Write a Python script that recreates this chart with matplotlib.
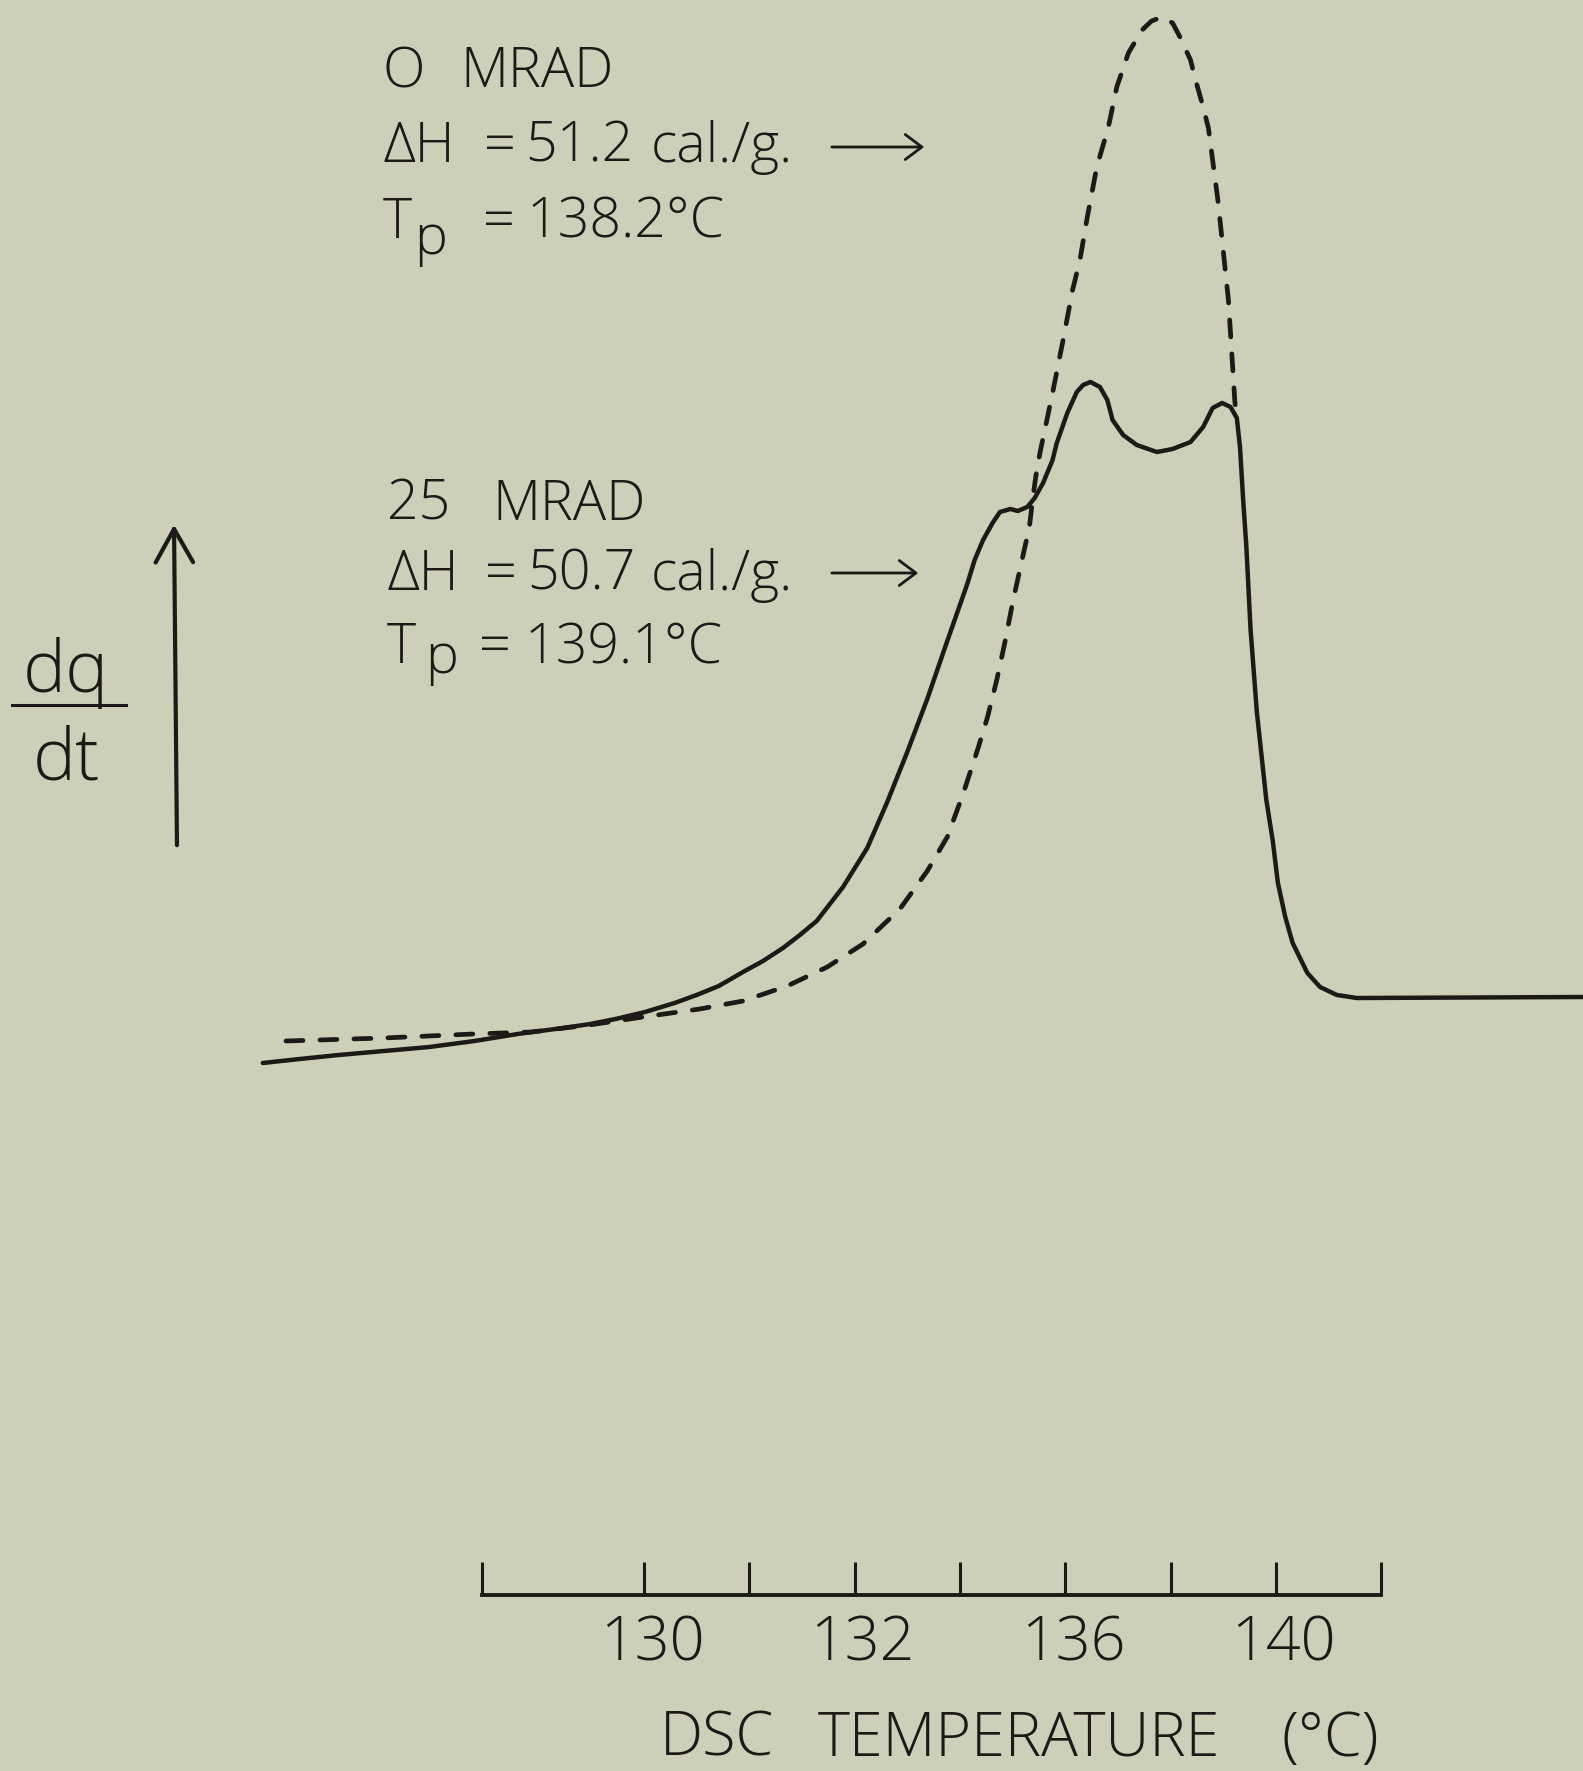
"""
DSC melting endotherms, 0 vs 25 MRAD (re-drawn from a scanned figure).
Output: out.png
"""

import matplotlib
matplotlib.use('Agg')
import matplotlib.pyplot as plt
import matplotlib.transforms as mtransforms
from matplotlib.patches import FancyArrowPatch
from matplotlib.lines import Line2D

# ── data ──────────────────────────────────────────────────────────────────────
# x in chart divisions (one tick = 1, the "130" tick at 0), y = dq/dt (arb. units,
# 0 = flat baseline after melting)

rad25_x = [-3.62, -3.27, -2.90, -2.47, -2.04, -1.61, -1.20, -0.77, -0.51, -0.27,
           0.01, 0.29, 0.50, 0.71, 0.94, 1.13, 1.32, 1.48, 1.64, 1.89,
           2.12, 2.31, 2.50, 2.69, 2.88, 3.07, 3.14, 3.22, 3.31, 3.38,
           3.48, 3.55, 3.64, 3.71, 3.79, 3.88, 3.92, 4.02, 4.11, 4.17,
           4.24, 4.33, 4.40, 4.45, 4.55, 4.68, 4.87, 5.02, 5.19, 5.31,
           5.40, 5.49, 5.57, 5.63, 5.66, 5.69, 5.72, 5.76, 5.82, 5.91,
           5.97, 6.02, 6.09, 6.16, 6.30, 6.42, 6.58, 6.77, 8.92]
rad25_y = [-0.65, -0.61, -0.57, -0.53, -0.49, -0.43, -0.36, -0.30, -0.26, -0.21,
           -0.14, -0.05, 0.03, 0.12, 0.26, 0.37, 0.50, 0.63, 0.77, 1.11,
           1.50, 1.96, 2.46, 2.99, 3.57, 4.14, 4.38, 4.58, 4.75, 4.86,
           4.89, 4.87, 4.91, 5.00, 5.15, 5.38, 5.55, 5.85, 6.06, 6.13,
           6.16, 6.11, 5.98, 5.78, 5.63, 5.53, 5.46, 5.49, 5.56, 5.71,
           5.90, 5.95, 5.91, 5.80, 5.51, 4.98, 4.52, 3.69, 2.86, 1.98,
           1.58, 1.15, 0.81, 0.55, 0.25, 0.11, 0.03, 0.00, 0.01]

rad0_x = [-3.40, -2.47, -1.62, -1.07, -0.52, -0.01, 0.53, 0.94, 1.36, 1.74,
          2.08, 2.43, 2.69, 2.88, 3.03, 3.17, 3.26, 3.35, 3.43, 3.50,
          3.60, 3.66, 3.69, 3.72, 3.76, 3.88, 3.98, 4.07, 4.14, 4.21,
          4.30, 4.41, 4.49, 4.60, 4.73, 4.82, 4.92, 5.02, 5.09, 5.19,
          5.23, 5.31, 5.36, 5.40, 5.45, 5.50, 5.55, 5.58, 5.61, 5.62]
rad0_y = [-0.43, -0.40, -0.36, -0.34, -0.27, -0.19, -0.11, -0.03, 0.12, 0.31,
          0.54, 0.89, 1.27, 1.61, 2.04, 2.49, 2.80, 3.18, 3.57, 3.95,
          4.43, 4.71, 4.98, 5.21, 5.45, 6.05, 6.58, 7.08, 7.38, 7.81,
          8.31, 8.71, 9.11, 9.45, 9.68, 9.77, 9.81, 9.75, 9.61, 9.38,
          9.21, 8.91, 8.70, 8.38, 7.98, 7.48, 6.98, 6.48, 5.98, 5.88]

tick_pos   = [0, 1, 2, 3, 4, 5, 6, 7]
tick_lab   = ['130', '', '132', '', '136', '', '140', '']
axis_start = -1.54     # left end of the drawn temperature axis

# annotation words, one list per printed line (spaced as on the original)
rad0_name  = ['O', 'MRAD']
rad0_dh    = ['ΔH', '=', '51.2', 'cal./g.']
rad0_tp    = ['T', 'p', '=', '138.2°C']
rad25_name = ['25', 'MRAD']
rad25_dh   = ['ΔH', '=', '50.7', 'cal./g.']
rad25_tp   = ['T', 'p', '=', '139.1°C']
xlabel     = ['DSC', 'TEMPERATURE', '(°C)']

# ── style ─────────────────────────────────────────────────────────────────────
W, H = 1583, 1771
BG   = '#cdcfb8'
INK  = '#1c1917'
plt.rcParams['font.family'] = ['Open Sans', 'DejaVu Sans']
plt.rcParams['font.weight'] = 'light'
plt.rcParams['text.color'] = INK

def fp(px, py):
    """scan pixel -> figure fraction"""
    return px / W, 1 - py / H

def words(tokens, xs, ys, size=40):
    for tok, x, y in zip(tokens, xs, ys):
        fig.text(*fp(x, y), tok, fontsize=size, ha='left', va='baseline')

fig = plt.figure(figsize=(W / 100, H / 100), dpi=100, facecolor=BG)

# main canvas: divisions on x, dq/dt on y
ax = fig.add_axes([0, 0, 1, 1])
ax.set_xlim(-644 / 105.3, (W - 644) / 105.3)
ax.set_ylim((998 - H) / 100, 998 / 100)
ax.axis('off')

ax.plot(rad25_x, rad25_y, color=INK, lw=3.2, solid_joinstyle='round',
        solid_capstyle='round')
ax.plot(rad0_x, rad0_y, color=INK, lw=3.4, ls=(0, (3.6, 3.6)),
        dash_capstyle='round', dash_joinstyle='round')

# hand-drawn temperature axis
ax2 = fig.add_axes([0, 1 - 1595 / H, 1, 0.02], facecolor='none')
ax2.set_xlim(ax.get_xlim())
for s in ('top', 'left', 'right'):
    ax2.spines[s].set_visible(False)
ax2.spines['bottom'].set_bounds(axis_start, tick_pos[-1])
ax2.spines['bottom'].set_linewidth(2.8)
ax2.spines['bottom'].set_color(INK)
ax2.set_yticks([])
ax2.set_xticks([axis_start] + tick_pos)
ax2.set_xticklabels([''] + tick_lab)
ax2.tick_params(axis='x', direction='in', length=24, width=2.2, color=INK,
                labelsize=44, pad=14, labelcolor=INK)
shift = mtransforms.ScaledTranslation(0.08, 0, fig.dpi_scale_trans)
for t in ax2.get_xticklabels():
    t.set_transform(t.get_transform() + shift)

words(xlabel, [660, 818, 1281], [1756] * 3, size=44)

# ── annotations ───────────────────────────────────────────────────────────────
def small_arrow(x0, x1, y):
    fig.add_artist(FancyArrowPatch(
        fp(x0, y), fp(x1, y), transform=fig.transFigure,
        arrowstyle='->, head_length=0.6, head_width=0.45', mutation_scale=20,
        color=INK, lw=2.0))

# 0 MRAD block
words(rad0_name, [383, 460], [87, 87])
words(rad0_dh, [383, 484, 525, 651], [162] * 4)
small_arrow(829, 927, 147)
words(rad0_tp, [383, 414, 483, 527], [238, 254, 238, 238])

# 25 MRAD block
words(rad25_name, [387, 492], [520, 520])
words(rad25_dh, [387, 485, 527, 651], [590] * 4)
small_arrow(829, 921, 573)
words(rad25_tp, [387, 425, 479, 525], [663, 673, 663, 663])

# dq/dt with upward arrow
fig.text(*fp(66, 692), 'dq', fontsize=52, ha='center', va='baseline')
fig.text(*fp(66, 780), 'dt', fontsize=52, ha='center', va='baseline')
fig.add_artist(Line2D([12 / W, 126 / W], [1 - 705 / H] * 2, color=INK, lw=2.2))
fig.add_artist(FancyArrowPatch(
    fp(177, 848), fp(174, 522), transform=fig.transFigure,
    arrowstyle='->, head_length=0.8, head_width=0.45', mutation_scale=30,
    color=INK, lw=3.0))

fig.savefig('out.png', dpi=100, facecolor=BG)
print('Saved -> out.png')
